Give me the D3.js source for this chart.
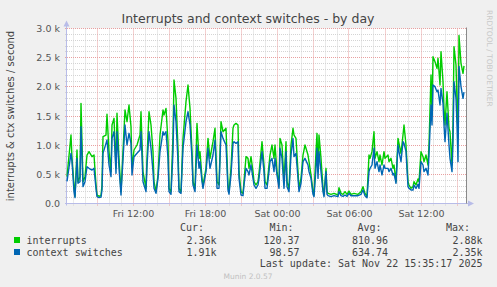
<!DOCTYPE html>
<html>
<head>
<meta charset="utf-8">
<script src="https://cdn.jsdelivr.net/npm/d3@7"></script>
<style>
  html, body { margin: 0; padding: 0; background: #f0f0f0; }
  svg { display: block; }
</style>
</head>
<body>
<svg id="chart"></svg>
<script>
// sample times, minutes after Fri Nov 21 2025 00:00
const minutes = [
  390, 410, 415, 425, 430, 440, 445, 455, 460, 470, 480, 490, 500, 515, 525, 535, 540, 550, 560, 565,
  570, 585, 590, 600, 610, 615, 625, 635, 640, 650, 660, 665, 680, 690, 700, 710, 715, 725, 740, 755,
  760, 770, 785, 790, 800, 810, 820, 825, 835, 845, 855, 870, 875, 885, 895, 900, 910, 920, 925, 935,
  945, 950, 960, 970, 985, 995, 1005, 1015, 1020, 1030, 1040, 1050, 1055, 1065, 1070, 1085, 1095, 1105, 1120, 1130,
  1140, 1150, 1160, 1170, 1185, 1195, 1200, 1210, 1220, 1225, 1235, 1245, 1250, 1260, 1270, 1275, 1285, 1295, 1300, 1310,
  1320, 1325, 1335, 1345, 1350, 1365, 1375, 1380, 1390, 1400, 1405, 1415, 1425, 1430, 1440, 1450, 1455, 1465, 1475, 1485,
  1490, 1500, 1510, 1520, 1525, 1535, 1545, 1550, 1560, 1570, 1580, 1595, 1600, 1610, 1620, 1625, 1635, 1640, 1645, 1650,
  1660, 1670, 1675, 1685, 1690, 1695, 1710, 1725, 1745, 1750, 1760, 1770, 1780, 1790, 1800, 1810, 1825, 1845, 1860, 1870,
  1880, 1890, 1900, 1905, 1915, 1925, 1930, 1940, 1950, 1955, 1965, 1975, 1980, 1995, 2000, 2010, 2020, 2025, 2035, 2045,
  2050, 2060, 2070, 2075, 2085, 2095, 2100, 2110, 2120, 2125, 2135, 2145, 2150, 2160, 2170, 2175, 2185, 2195, 2200, 2210,
  2215, 2220, 2230, 2240, 2245, 2255, 2260, 2270, 2275, 2280, 2290, 2300, 2305, 2315, 2320, 2325, 2335, 2340, 2345, 2350,
  2360, 2370, 2375
];

const interrupts = [
  460, 1174, 774, 317, 125, 917, 374, 460, 1717, 374, 460, 831, 889, 803, 831, 317, 146, 125, 134, 317,
  1146, 1174, 1529, 889, 546, 1346, 1460, 603, 1546, 774, 203, 546, 1603, 1403, 1689, 1317, 603, 917, 1003, 1174,
  1574, 546, 260, 774, 1574, 1346, 889, 374, 203, 489, 1174, 1603, 1517, 1631, 1060, 260, 203, 1174, 2117, 1803,
  946, 260, 203, 1117, 1746, 2031, 1631, 889, 374, 260, 1374, 774, 889, 431, 317, 603, 1117, 774, 1060, 1289,
  374, 317, 1403, 1231, 1289, 300, 200, 603, 1289, 1346, 1374, 1346, 546, 203, 174, 374, 803, 774, 603, 803,
  546, 374, 317, 374, 517, 1060, 660, 374, 317, 660, 831, 1003, 774, 1003, 546, 317, 1117, 1003, 374, 1060,
  374, 260, 1003, 1289, 1174, 1117, 546, 260, 431, 831, 1003, 831, 717, 489, 203, 146, 889, 1203, 546, 1174,
  774, 260, 146, 603, 203, 174, 157, 174, 146, 271, 174, 157, 203, 157, 214, 157, 174, 157, 203, 289,
  174, 125, 831, 774, 889, 1231, 774, 889, 717, 831, 660, 889, 774, 831, 717, 774, 603, 660, 374, 1117,
  1031, 860, 1174, 1346, 1003, 374, 317, 260, 289, 374, 317, 420, 374, 889, 803, 717, 831, 660, 1003, 2203,
  1517, 2517, 2431, 2317, 2489, 2031, 2603, 2089, 1631, 1346, 1917, 1289, 1231, 660, 1346, 2688, 2374, 1746, 1117, 2880,
  2403, 2231, 2360
];

const contextSwitches = [
  380, 860, 720, 203, 100, 774, 346, 374, 1317, 289, 374, 631, 603, 574, 603, 260, 117, 100, 110, 231,
  860, 1031, 1089, 660, 460, 1117, 1231, 517, 1231, 603, 146, 460, 1346, 1003, 1203, 1031, 489, 803, 860, 917,
  1231, 374, 203, 640, 1231, 946, 546, 260, 174, 431, 889, 1231, 1174, 1231, 774, 203, 157, 889, 1689, 1403,
  717, 203, 174, 946, 1403, 1574, 1346, 774, 317, 203, 1003, 603, 717, 374, 260, 546, 946, 603, 831, 1089,
  260, 260, 1231, 1117, 1003, 230, 160, 489, 1031, 1060, 1031, 1060, 431, 146, 134, 317, 603, 546, 489, 660,
  431, 317, 260, 317, 431, 889, 546, 260, 260, 546, 717, 774, 546, 774, 489, 260, 946, 774, 260, 889,
  289, 203, 831, 1117, 803, 860, 431, 203, 346, 717, 774, 660, 546, 431, 157, 117, 603, 946, 431, 889,
  546, 203, 117, 546, 157, 134, 117, 134, 117, 203, 134, 123, 146, 123, 174, 134, 134, 134, 157, 231,
  134, 100, 546, 603, 660, 946, 603, 717, 546, 660, 489, 660, 603, 603, 546, 603, 489, 517, 346, 1003,
  889, 717, 1060, 1031, 889, 289, 260, 231, 231, 317, 260, 329, 260, 717, 660, 546, 603, 489, 831, 1689,
  1346, 2031, 2003, 1917, 1946, 1689, 1974, 1717, 1346, 1060, 1546, 1003, 774, 546, 1060, 2089, 1803, 1346, 717, 2350,
  2003, 1803, 1910
];

const seriesNames = ["interrupts", "context switches"];
const seriesColors = ["#00cc00", "#0066b3"];
const legendHeaders = ["Cur:", "Min:", "Avg:", "Max:"];
const legendValues = [
  ["2.36k", "120.37", "810.96", "2.88k"],
  ["1.91k", "98.57", "634.74", "2.35k"]
];
const yTicks = [0, 500, 1000, 1500, 2000, 2500, 3000];

const width = 497, height = 287;
const plot = {left: 67, right: 467, top: 28.5, bottom: 203.5};

const svg = d3.select("#chart")
    .attr("width", width)
    .attr("height", height)
    .style("font-family", "'DejaVu Sans', sans-serif");

svg.append("rect")
    .attr("width", width)
    .attr("height", height)
    .attr("fill", "#f0f0f0");

const t0 = new Date(2025, 10, 21, 0, 0);
const toDate = m => new Date(t0.getTime() + m * 60000);

const x = d3.scaleTime()
    .domain([toDate(390), toDate(390 + 400 * 5)])
    .range([plot.left, plot.right]);

const y = d3.scaleLinear()
    .domain([0, 3000])
    .range([plot.bottom, plot.top]);

// canvas
svg.append("rect")
    .attr("x", plot.left)
    .attr("y", plot.top)
    .attr("width", plot.right - plot.left)
    .attr("height", plot.bottom - plot.top)
    .attr("fill", "#ffffff");

const snap = v => Math.round(v - 0.5) + 0.5;

// minor grid
const grid = svg.append("g").attr("stroke-dasharray", "1,1").attr("stroke-width", 1);

grid.selectAll(".hminor")
    .data(d3.range(100, 3001, 100).filter(v => v % 500 !== 0))
    .join("line")
    .attr("x1", plot.left - 2).attr("x2", plot.right)
    .attr("y1", d => snap(y(d))).attr("y2", d => snap(y(d)))
    .attr("stroke", "#d4d4d4");

grid.selectAll(".vminor")
    .data(x.ticks(d3.timeHour.every(1)).filter(d => d.getHours() % 3 !== 0))
    .join("line")
    .attr("x1", d => snap(x(d))).attr("x2", d => snap(x(d)))
    .attr("y1", plot.top).attr("y2", plot.bottom + 2)
    .attr("stroke", "#d4d4d4");

// major grid
grid.selectAll(".hmajor")
    .data(yTicks.filter(v => v > 0))
    .join("line")
    .attr("x1", plot.left - 2).attr("x2", plot.right)
    .attr("y1", d => snap(y(d))).attr("y2", d => snap(y(d)))
    .attr("stroke", "#e8a0a0");

grid.selectAll(".vmajor")
    .data(x.ticks(d3.timeHour.every(3)))
    .join("line")
    .attr("x1", d => snap(x(d))).attr("x2", d => snap(x(d)))
    .attr("y1", plot.top).attr("y2", plot.bottom + 2)
    .attr("stroke", "#e8a0a0");

// axes
const yAxis = d3.axisLeft(y)
    .tickValues(yTicks)
    .tickSize(0)
    .tickPadding(7)
    .tickFormat(v => v === 0 ? "0.0" : (v / 1000).toFixed(1) + " k");

const yAxisG = svg.append("g")
    .attr("transform", `translate(${plot.left},0)`)
    .call(yAxis);
yAxisG.select(".domain").remove();
yAxisG.selectAll("text")
    .attr("fill", "#555")
    .style("font-size", "9.5px")
    .style("font-family", "'DejaVu Sans', sans-serif");

const xAxis = d3.axisBottom(x)
    .ticks(d3.timeHour.every(6))
    .tickSize(0)
    .tickPadding(7)
    .tickFormat(d3.timeFormat("%a %H:%M"));

const xAxisG = svg.append("g")
    .attr("transform", `translate(0,${plot.bottom})`)
    .call(xAxis);
xAxisG.select(".domain").remove();
xAxisG.selectAll("text")
    .attr("fill", "#555")
    .style("font-size", "9.5px")
    .style("font-family", "'DejaVu Sans', sans-serif");

// axis lines with arrows
const axisColor = "#b8bce8";
svg.append("line")
    .attr("x1", 66.5).attr("x2", 66.5)
    .attr("y1", 24).attr("y2", plot.bottom + 2)
    .attr("stroke", axisColor);
svg.append("line")
    .attr("x1", plot.left - 2).attr("x2", 470)
    .attr("y1", plot.bottom).attr("y2", plot.bottom)
    .attr("stroke", axisColor);
svg.append("path")
    .attr("d", "M63.5,26.5 L66.5,20.5 L69.5,26.5 Z")
    .attr("fill", axisColor);
svg.append("path")
    .attr("d", `M468,${plot.bottom - 3} L474,${plot.bottom} L468,${plot.bottom + 3} Z`)
    .attr("fill", axisColor);

// series
const line = d3.line()
    .x(d => x(toDate(d[0])))
    .y(d => y(d[1]));

[interrupts, contextSwitches].forEach((vals, i) => {
    svg.append("path")
        .datum(minutes.map((m, j) => [m, vals[j]]))
        .attr("fill", "none")
        .attr("stroke", seriesColors[i])
        .attr("stroke-width", 1.4)
        .attr("stroke-linejoin", "round")
        .attr("d", line);
});

// right edge marker
svg.append("line")
    .attr("x1", 466.5).attr("x2", 466.5)
    .attr("y1", plot.top - 1).attr("y2", plot.bottom)
    .attr("stroke", "#8a8a8a");

// title
svg.append("text")
    .attr("x", 248)
    .attr("y", 23)
    .attr("text-anchor", "middle")
    .attr("fill", "#444")
    .style("font-size", "12.5px")
    .text("Interrupts and context switches - by day");

// y label
svg.append("text")
    .attr("transform", "rotate(-90)")
    .attr("x", -116)
    .attr("y", 14)
    .attr("text-anchor", "middle")
    .attr("fill", "#444")
    .style("font-size", "10px")
    .text("interrupts & ctx switches / second");

// rrdtool watermark
svg.append("text")
    .attr("transform", "translate(487,10) rotate(90)")
    .attr("fill", "#c8c8c8")
    .style("font-size", "7.5px")
    .text("RRDTOOL / TOBI OETIKER");

// legend
const legend = svg.append("g")
    .style("font-family", "'DejaVu Sans Mono', monospace")
    .style("font-size", "10px")
    .attr("fill", "#444");

const headerEnds = [204, 293.5, 381.5, 470];
const valueEnds = [216.5, 299.5, 388, 482.5];

legend.selectAll(".hdr")
    .data(legendHeaders)
    .join("text")
    .attr("x", (d, i) => headerEnds[i])
    .attr("y", 231)
    .attr("text-anchor", "end")
    .text(d => d);

seriesNames.forEach((name, i) => {
    const rowY = 243.5 + i * 12;
    legend.append("rect")
        .attr("x", 14).attr("y", rowY - 6.5)
        .attr("width", 6).attr("height", 6)
        .attr("fill", seriesColors[i]);
    legend.append("text")
        .attr("x", 26.5).attr("y", rowY)
        .text(name);
    legend.selectAll(".v" + i)
        .data(legendValues[i])
        .join("text")
        .attr("x", (d, j) => valueEnds[j])
        .attr("y", rowY)
        .attr("text-anchor", "end")
        .text(d => d);
});

legend.append("text")
    .attr("x", 482.5)
    .attr("y", 267)
    .attr("text-anchor", "end")
    .text("Last update: Sat Nov 22 15:35:17 2025");

svg.append("text")
    .attr("x", 248)
    .attr("y", 279)
    .attr("text-anchor", "middle")
    .attr("fill", "#c0c0c0")
    .style("font-size", "7.5px")
    .text("Munin 2.0.57");
</script>
</body>
</html>
